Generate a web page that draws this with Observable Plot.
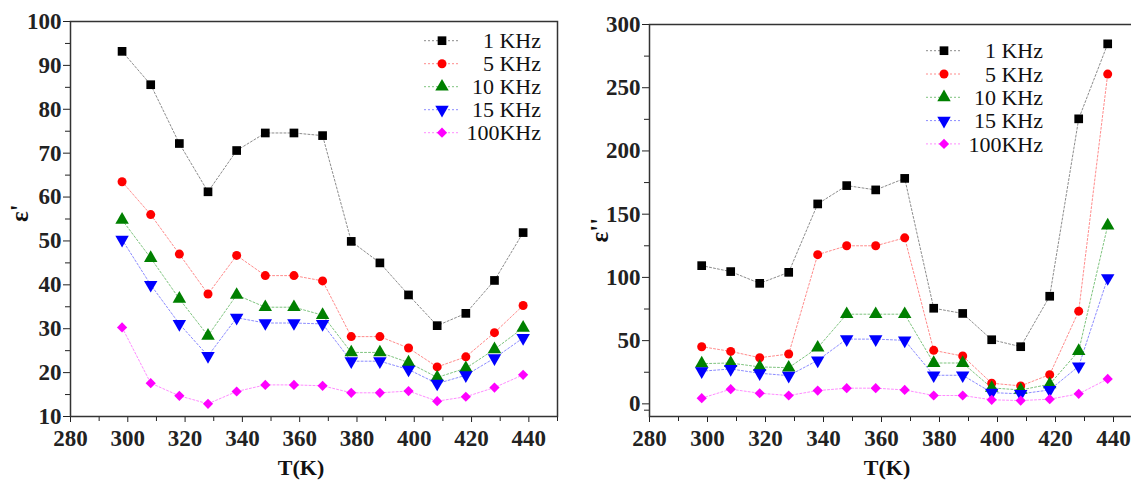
<!DOCTYPE html>
<html><head><meta charset="utf-8">
<script src="https://cdn.jsdelivr.net/npm/d3@7"></script>
<script src="https://cdn.jsdelivr.net/npm/@observablehq/plot@0.6"></script>
<style>
html,body{margin:0;padding:0;background:#fff;}
#wrap{position:relative;width:1131px;height:480px;overflow:hidden;background:#fff;}
#left{position:absolute;left:0;top:0;width:565px;}
#right{position:absolute;left:565px;top:0;width:585px;}
#wrap svg{max-width:none !important;}
#wrap svg, #wrap svg text, #wrap svg g {font-family:"Liberation Serif","Times New Roman",serif !important;}
</style></head><body><div id="wrap"><div id="left"></div><div id="right"></div></div>
<script>
// ---- data ----
const temps = [298,308,318,328,338,348,358,368,378,388,398,408,418,428,438];
const freqs = ["1 KHz","5 KHz","10 KHz","15 KHz","100KHz"];
const colors = ["#000000","#ff0000","#008000","#0000ff","#ff00ff"];
const lineColors = ["#8c8c8c","#ff8c8c","#7fc47f","#8c8cff","#ff8cff"];

// ε' (left panel)
const re_1k   = [93.2,85.6,72.2,61.2,70.6,74.6,74.6,74.0,49.9,45.0,37.7,30.7,33.5,41.0,51.9];
const re_5k   = [63.5,56.0,47.0,37.9,46.7,42.1,42.1,40.9,28.2,28.2,25.6,21.3,23.6,29.1,35.3];
const re_10k  = [54.8,46.1,36.8,28.4,37.7,34.9,34.9,33.1,24.6,24.6,22.3,18.9,21.0,25.3,30.2];
const re_15k  = [50.3,40.0,31.1,23.8,32.5,31.3,31.3,31.1,22.6,22.6,20.7,17.5,19.4,23.3,27.9];
const re_100k = [30.3,17.6,14.7,12.9,15.7,17.2,17.2,17.0,15.4,15.4,15.8,13.5,14.5,16.6,19.5];

// ε'' (right panel)
const im_1k   = [109.3,104.6,95.3,104.0,158.1,172.6,169.2,178.3,75.6,71.5,50.7,45.2,85.1,225.4,284.7];
const im_5k   = [45.2,41.5,36.5,39.4,118.0,125.0,125.0,131.3,42.3,37.8,16.3,14.2,23.1,73.3,260.8];
const im_10k  = [31.8,32.3,29.2,28.6,44.4,70.9,70.9,70.9,32.3,32.3,12.6,11.0,15.5,41.8,141.0];
const im_15k  = [25.8,27.6,24.2,22.3,34.4,51.2,51.2,50.2,22.6,22.6,8.9,7.9,11.0,29.7,99.5];
const im_100k = [4.5,11.6,8.4,6.6,10.5,12.4,12.4,11.0,6.6,6.6,3.2,2.6,3.7,7.9,19.7];

const xTicks = [280,300,320,340,360,380,400,420,440];
const xMinor = [290,310,330,350,370,390,410,430,450];
const yTicksL = [10,20,30,40,50,60,70,80,90,100];
const yMinorL = [15,25,35,45,55,65,75,85,95];
const yTicksR = [0,50,100,150,200,250,300];
const yMinorR = [-5,25,75,125,175,225,275];

const FONT = "Liberation Serif, Times New Roman, serif";

// ---- symbols ----
const triUp = {draw(ctx, size){const y=-Math.sqrt(size/(Math.sqrt(3)*3)); const s3=Math.sqrt(3);
  ctx.moveTo(0,2*y); ctx.lineTo(-s3*y,-y); ctx.lineTo(s3*y,-y); ctx.closePath();}};
const triDown = {draw(ctx, size){const y=-Math.sqrt(size/(Math.sqrt(3)*3)); const s3=Math.sqrt(3);
  ctx.moveTo(0,-2*y); ctx.lineTo(s3*y,y); ctx.lineTo(-s3*y,y); ctx.closePath();}};
const symbols = [d3.symbolSquare, d3.symbolCircle, triUp, triDown, d3.symbolDiamond2];
const radii = [4.9, 4.5, 5.0, 5.0, 4.6];

function legendMark(symX, row0, step, textX){
  return (index, scales, values, dims) => {
    const g = d3.create("svg:g");
    freqs.forEach((f,i) => {
      const y = row0 + i*step;
      g.append("line").attr("x1",symX-18).attr("x2",symX+18).attr("y1",y).attr("y2",y)
        .attr("stroke",lineColors[i]).attr("stroke-width",1).attr("stroke-dasharray","2,2");
      g.append("path").attr("transform",`translate(${symX},${y})`)
        .attr("d", d3.symbol(symbols[i], Math.PI*radii[i]*radii[i])()).attr("fill",colors[i]);
      g.append("text").attr("x",textX).attr("y",y).attr("dy","0.35em").attr("text-anchor","end")
        .attr("font-size",22).attr("font-family",FONT).attr("fill","#111").text(f);
    });
    return g.node();
  };
}

function chart(series, cfg){
  const marks = [];
  series.forEach((vals,i) => {
    const data = temps.map((t,j) => ({t, v: vals[j]}));
    marks.push(Plot.line(data, {x:"t", y:"v", stroke: lineColors[i], strokeWidth:1, strokeDasharray:"2,2"}));
  });
  series.forEach((vals,i) => {
    const data = temps.map((t,j) => ({t, v: vals[j]}));
    marks.push(Plot.dot(data, {x:"t", y:"v", symbol: symbols[i], r: radii[i], fill: colors[i], stroke: "none"}));
  });
  return Plot.plot({
    width: cfg.width, height: 480,
    marginLeft: cfg.ml, marginRight: 8, marginTop: cfg.mt, marginBottom: 64,
    style: `font-family: 'Liberation Serif', 'Times New Roman', serif; background: transparent; color: #222; overflow: visible; max-width: none;`,
    x: {domain: [280,450]},
    y: {domain: cfg.ydomain},
    marks: [
      Plot.axisX({ticks: xTicks, tickSize: 6, tickPadding: 7, fontSize: 23, fontWeight: "bold", fontFamily: FONT, label: null, tickFormat: d => d}),
      Plot.axisX({ticks: xMinor.filter(d => d <= 450), tickSize: 5, text: null, label: null}),
      Plot.axisY({ticks: cfg.yticks, tickSize: 7, tickPadding: 2, fontSize: 23, fontWeight: "bold", fontFamily: FONT, label: null, tickFormat: d => d}),
      Plot.axisY({ticks: cfg.yminor.filter(d => d >= cfg.ydomain[0]), tickSize: 5, text: null, label: null}),
      ...marks,
      Plot.frame({stroke: "#333", strokeWidth: 1.5}),
      Plot.text(["T(K)"], {frameAnchor: "bottom", dx: cfg.xtdx, dy: 58, fontSize: 22, fontWeight: "bold", fontFamily: FONT, fill: "#111"}),
      Plot.text([cfg.ylabel], {frameAnchor: "left", dx: cfg.ytdx, dy: cfg.ytdy, rotate: -90, fontSize: 25, fontWeight: "bold", fontFamily: FONT, fill: "#111"}),
      legendMark(cfg.legX, cfg.legY, cfg.legStep, cfg.legTextX)
    ]
  });
}

document.getElementById("left").append(chart([re_1k,re_5k,re_10k,re_15k,re_100k], {
  width: 565, ml: 70, mt: 21, ydomain: [10,100], yticks: yTicksL, yminor: yMinorL,
  ylabel: "ε'", ytdx: -51, ytdy: 3, xtdx: -13,
  legX: 442, legY: 40.7, legStep: 23, legTextX: 541
}));
document.getElementById("right").append(chart([im_1k,im_5k,im_10k,im_15k,im_100k], {
  width: 585, ml: 84, mt: 24, ydomain: [-10,300], yticks: yTicksR, yminor: yMinorR,
  ylabel: "ε''", ytdx: -50, ytdy: 22, xtdx: -9,
  legX: 379, legY: 50.7, legStep: 23.3, legTextX: 478
}));
</script></body></html>
